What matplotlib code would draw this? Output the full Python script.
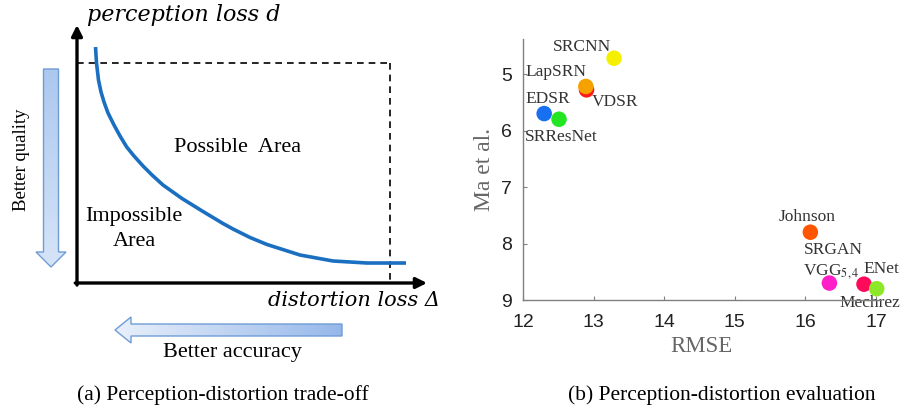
import matplotlib
matplotlib.use("Agg")
import matplotlib.pyplot as plt
import numpy as np
from matplotlib.patches import FancyArrow
from matplotlib.colors import LinearSegmentedColormap

plt.rcParams["mathtext.fontset"] = "stix"
SERIF = "Liberation Serif"
SANS = "Liberation Sans"

# (a) trade-off curve (axis units 0-100)
curve_x = [5.29, 5.57, 6.14, 6.86, 7.71, 8.86, 10.57, 12.29, 14.20, 16.29, 18.86, 21.43,
           24.57, 30.00, 36.00, 41.71, 44.57, 49.43, 54.29, 63.71, 73.14, 82.86, 89.43, 94.0]
curve_y = [91.47, 85.27, 78.68, 74.03, 70.16, 65.89, 61.24, 56.98, 52.71, 49.22, 45.35, 41.86,
           37.98, 32.75, 27.71, 23.06, 20.93, 17.64, 14.92, 10.85, 8.53, 7.75, 7.75, 7.75]
bound_x = 89.4
bound_y = 85.4

# (b) methods: RMSE vs Ma et al. score
methods = ["SRCNN", "VDSR", "LapSRN", "EDSR", "SRResNet", "Johnson", "SRGAN", "ENet", "Mechrez"]
rmse = [13.29, 12.90, 12.89, 12.30, 12.51, 16.07, 16.34, 16.83, 17.01]
ma = [4.72, 5.28, 5.22, 5.70, 5.80, 7.80, 8.70, 8.72, 8.80]
colors = ["#f5f000", "#ff1a1a", "#f5a100", "#1670f0", "#22e622",
          "#ff5500", "#ff1fc8", "#ff0a5a", "#8de82a"]

lab_text = ["SRCNN", "LapSRN", "VDSR", "EDSR", "SRResNet", "Johnson",
            "SRGAN", "VGG$_{5,4}$", "ENet", "Mechrez"]
lab_x = [12.84, 12.46, 13.30, 12.354, 12.545, 16.03, 16.40, 16.37, 17.08, 16.91]
lab_y = [4.52, 4.965, 5.50, 5.44, 6.115, 7.53, 8.115, 8.50, 8.45, 9.06]
x_ticks = [12, 13, 14, 15, 16, 17]
y_ticks = [5, 6, 7, 8, 9]

W, H = 900, 409
fig = plt.figure(figsize=(9, 4.09), dpi=100)

# overlay in pixel coords for decorations and captions
bg = fig.add_axes([0, 0, 1, 1])
bg.set_xlim(0, W)
bg.set_ylim(H, 0)
bg.axis("off")


def grad_arrow(x, y, dx, dy, width, head_w, head_l, c0, c1, vertical):
    arr = FancyArrow(x, y, dx, dy, width=width, head_width=head_w, head_length=head_l,
                     length_includes_head=True, facecolor="none", edgecolor="#6f9cd6",
                     lw=1.0, zorder=3)
    bg.add_patch(arr)
    cmap = LinearSegmentedColormap.from_list("g", [c0, c1])
    g = np.linspace(0, 1, 100)
    g = g.reshape(-1, 1) if vertical else g.reshape(1, -1)
    xs = [min(x, x + dx) - head_w, max(x, x + dx) + head_w]
    ys = [min(y, y + dy) - head_w, max(y, y + dy) + head_w]
    im = bg.imshow(g, cmap=cmap, extent=[xs[0], xs[1], ys[1], ys[0]],
                   aspect="auto", zorder=2, interpolation="bilinear")
    im.set_clip_path(arr)


grad_arrow(51, 69, 0, 198, 15, 30, 15, "#a6c4ee", "#dce8f8", True)
grad_arrow(342, 330, -227, 0, 12, 26, 16, "#f2f6fc", "#8db2e8", False)
bg.set_xlim(0, W)
bg.set_ylim(H, 0)

bg.text(22, 160, "Better quality", rotation=90, ha="center", va="center",
        fontsize=13.5, family=SERIF)
bg.text(232, 353, "Better accuracy", ha="center", va="center", fontsize=16, family=SERIF)
bg.text(223, 395, "(a) Perception-distortion trade-off", ha="center", va="center",
        fontsize=15.5, family=SERIF)
bg.text(722, 395, "(b) Perception-distortion evaluation", ha="center", va="center",
        fontsize=15.5, family=SERIF)
bg.text(87, 15, "perception loss d", ha="left", va="center", fontsize=16,
        family="DejaVu Serif", style="italic")
bg.text(268, 301, "distortion loss Δ", ha="left", va="center", fontsize=15,
        family="DejaVu Serif", style="italic")
bg.text(238, 147, "Possible  Area", ha="center", va="center", fontsize=16, family=SERIF)
bg.text(134, 216, "Impossible", ha="center", va="center", fontsize=16, family=SERIF)
bg.text(134, 241, "Area", ha="center", va="center", fontsize=16, family=SERIF)

# (a) schematic axes
ax_a = fig.add_axes([77 / W, (H - 283) / H, 350 / W, 258 / H])
ax_a.set_xlim(0, 100)
ax_a.set_ylim(0, 100)
ax_a.axis("off")
ax_a.patch.set_alpha(0)
arrow_kw = dict(arrowstyle="-|>", color="black", lw=2.4, mutation_scale=16,
                shrinkA=0, shrinkB=0)
ax_a.annotate("", xy=(100, 0), xytext=(-0.5, 0), arrowprops=arrow_kw, annotation_clip=False)
ax_a.annotate("", xy=(0, 100), xytext=(0, -0.8), arrowprops=arrow_kw, annotation_clip=False)
ax_a.plot([0, bound_x], [bound_y, bound_y], ls=(0, (4, 3)), color="black", lw=1.2)
ax_a.plot([bound_x, bound_x], [bound_y, 0], ls=(0, (4, 3)), color="black", lw=1.2)
ax_a.plot(curve_x, curve_y, color="#1a6fc0", lw=2.6, solid_capstyle="butt",
          solid_joinstyle="round", clip_on=False)

# (b) scatter
x0, x1 = 12, 17.05
y0, y1 = 9, 4.38
ax_b = fig.add_axes([523 / W, (H - 300) / H, (x1 - x0) * 70.6 / W, 261 / H])
ax_b.patch.set_alpha(0)
ax_b.scatter(rmse, ma, s=125, c=colors, edgecolors="none", zorder=3, clip_on=False)
for t, lx, ly in zip(lab_text, lab_x, lab_y):
    ax_b.text(lx, ly, t, ha="center", va="center", fontsize=12.5, family=SERIF,
              color="#333333", zorder=2)
ax_b.set_xlim(x0, x1)
ax_b.set_ylim(y0, y1)
ax_b.set_xticks(x_ticks)
ax_b.set_yticks(y_ticks)
for s in ["top", "right"]:
    ax_b.spines[s].set_visible(False)
for s in ["left", "bottom"]:
    ax_b.spines[s].set_color("#808080")
    ax_b.spines[s].set_linewidth(1.0)
ax_b.tick_params(direction="in", length=3, color="#808080", labelsize=14,
                 labelcolor="#222222")
ax_b.tick_params(axis="x", pad=10)
ax_b.tick_params(axis="y", pad=8)
for lab in ax_b.get_xticklabels() + ax_b.get_yticklabels():
    lab.set_family(SANS)
ax_b.set_xlabel("RMSE", fontsize=16.5, family=SERIF, color="#666666", labelpad=4)
ax_b.set_ylabel("Ma et al.", fontsize=17, family=SERIF, color="#666666", labelpad=4)

fig.savefig("out.png", dpi=100)
